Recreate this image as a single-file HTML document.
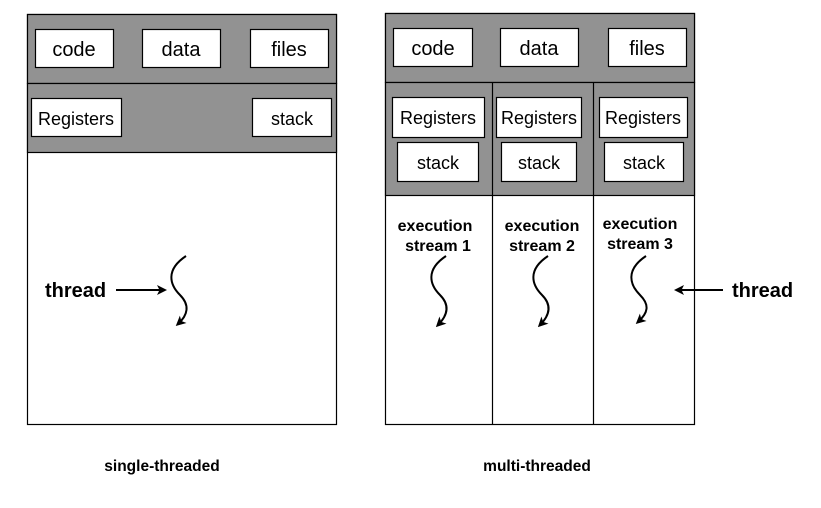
<!DOCTYPE html><html><head><style>body{margin:0;background:#fff}</style></head><body>
<svg width="821" height="503" xmlns="http://www.w3.org/2000/svg" font-family="Liberation Sans, Helvetica, sans-serif">
<defs><marker id="a" markerWidth="10" markerHeight="10" refX="7" refY="5" orient="auto" markerUnits="userSpaceOnUse"><path d="M0,0 L10,5 L0,10 L2.5,5z" fill="#000"/></marker></defs>
<g stroke="#000" stroke-width="1.2">
<rect x="27.5" y="14.5" width="309" height="410" fill="#fff"/>
<rect x="27.5" y="14.5" width="309" height="69" fill="#929292"/>
<rect x="27.5" y="83.5" width="309" height="69" fill="#929292"/>
<g fill="#fff">
<rect x="35.5" y="29.5" width="78" height="38"/><rect x="142.5" y="29.5" width="78" height="38"/><rect x="250.5" y="29.5" width="78" height="38"/>
<rect x="31.5" y="98.5" width="90" height="38"/><rect x="252.5" y="98.5" width="79" height="38"/>
</g>
<rect x="385.5" y="13.5" width="309" height="411" fill="#fff"/>
<rect x="385.5" y="13.5" width="309" height="69" fill="#929292"/>
<rect x="385.5" y="82.5" width="309" height="113" fill="#929292"/>
<line x1="492.5" y1="82" x2="492.5" y2="424"/><line x1="593.5" y1="82" x2="593.5" y2="424"/>
<g fill="#fff">
<rect x="393.5" y="28.5" width="79" height="38"/><rect x="500.5" y="28.5" width="78" height="38"/><rect x="608.5" y="28.5" width="78" height="38"/>
<rect x="392.5" y="97.5" width="92" height="40"/><rect x="496.5" y="97.5" width="85" height="40"/><rect x="599.5" y="97.5" width="88" height="40"/>
<rect x="397.5" y="142.5" width="81" height="39"/><rect x="501.5" y="142.5" width="75" height="39"/><rect x="604.5" y="142.5" width="79" height="39"/>
</g>
</g>
<g font-size="20" text-anchor="middle">
<text x="74" y="56">code</text><text x="181" y="56">data</text><text x="289" y="56">files</text>
<text x="433" y="55">code</text><text x="539" y="55">data</text><text x="647" y="55">files</text>
<g font-size="18"><text x="76" y="125">Registers</text><text x="292" y="125">stack</text>
<text x="438" y="124">Registers</text><text x="539" y="124">Registers</text><text x="643" y="124">Registers</text>
<text x="438" y="169">stack</text><text x="539" y="169">stack</text><text x="644" y="169">stack</text></g>
</g>
<g font-size="16" font-weight="bold" text-anchor="middle">
<text x="435" y="231">execution</text><text x="438" y="251">stream 1</text>
<text x="542" y="231">execution</text><text x="542" y="251">stream 2</text>
<text x="640" y="229">execution</text><text x="640" y="249">stream 3</text>
<text x="162" y="471" font-size="15.5">single-threaded</text>
<text x="537" y="471" font-size="15.5">multi-threaded</text>
</g>
<g font-size="20" font-weight="bold"><text x="45" y="297">thread</text><text x="732" y="297">thread</text></g>
<g fill="none" stroke="#000" stroke-width="2" marker-end="url(#a)">
<path d="M186,256 C165,270 170,285 180,295 C190,305 188,315 178,324"/>
<path d="M446,256 C425,270 430,285 440,295 C450,305 448,315 438,325"/>
<path d="M548,256 C527,270 532,285 542,295 C552,305 550,315 540,325"/>
<path d="M646,256 C625,270 630,285 640,295 C650,305 648,313 638,322"/>
<line x1="116" y1="290" x2="164" y2="290"/>
<line x1="723" y1="290" x2="677" y2="290"/>
</g>
</svg></body></html>
